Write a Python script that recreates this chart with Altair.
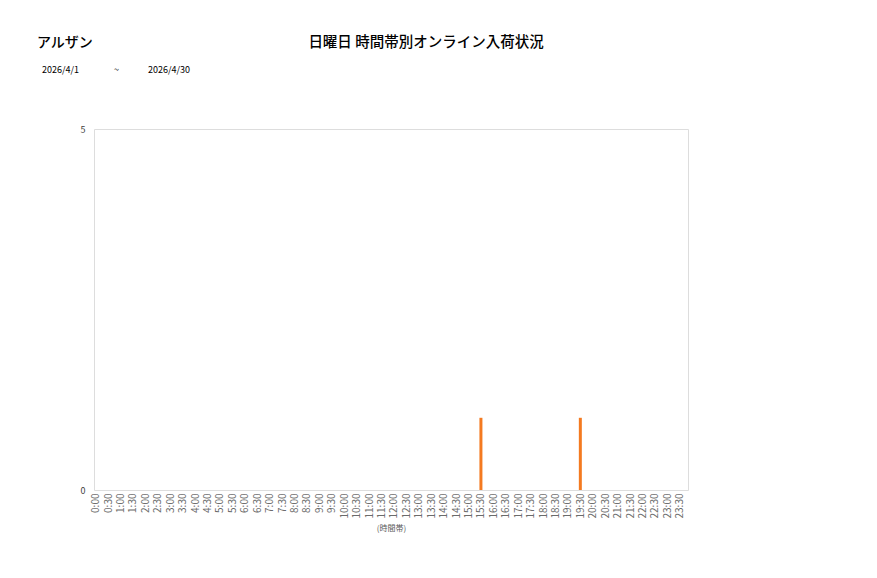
import altair as alt
import pandas as pd

# ---- data ----
times = [f"{h}:{m:02d}" for h in range(24) for m in (0, 30)]
counts = [0] * 48
counts[times.index("15:30")] = 1
counts[times.index("19:30")] = 1

store_name = "アルザン"
chart_title = "日曜日 時間帯別オンライン入荷状況"
date_from = "2026/4/1"
date_sep = "~"
date_to = "2026/4/30"
x_title = "(時間帯)"
y_ticks = [0, 5]

FONT = "Noto Sans CJK JP"
df = pd.DataFrame({"time": times, "count": counts})

bars = alt.Chart(df).mark_bar(size=3, color="#f47a20").encode(
    x=alt.X(
        "time:N",
        sort=times,
        scale=alt.Scale(type="point", padding=0.4, align=0.17),
        axis=alt.Axis(
            title=x_title,
            labelAngle=270,
            labelFontSize=10,
            labelColor="#6b6b6b",
            labelFont=FONT,
            titleFont=FONT,
            titleFontSize=8,
            titleFontWeight="normal",
            titleColor="#595959",
            titlePadding=7,
            ticks=False,
            domain=False,
            labelPadding=3,
        ),
    ),
    y=alt.Y(
        "count:Q",
        scale=alt.Scale(domain=[0, 5]),
        axis=alt.Axis(
            title=None,
            values=y_ticks,
            grid=False,
            ticks=False,
            domain=False,
            labelFontSize=9,
            labelColor="#404040",
            labelFont=FONT,
            labelPadding=9,
        ),
    ),
)


def label(text, x, y, size, align="left", weight="normal"):
    return alt.Chart(pd.DataFrame({"t": [text]})).mark_text(
        align=align, baseline="middle", fontSize=size, font=FONT,
        color="#000000", fontWeight=weight,
    ).encode(text="t:N", x=alt.value(x), y=alt.value(y))


chart = alt.layer(
    bars,
    label(store_name, -57, -86, 14, weight=500),
    label(chart_title, 332, -86, 14.5, align="center", weight=500),
    label(date_from, -52, -59, 9),
    label(date_sep, 20, -59, 9),
    label(date_to, 54, -59, 9),
).properties(
    width=594,
    height=361,
    autosize=alt.AutoSizeParams(type="none"),
    padding={"left": 86, "top": 121, "right": 100, "bottom": 60},
).configure_view(
    stroke="#d9d9d9", strokeWidth=1
).configure(background="white")

chart.save("out.html", embed_options={"renderer": "svg", "actions": False})
